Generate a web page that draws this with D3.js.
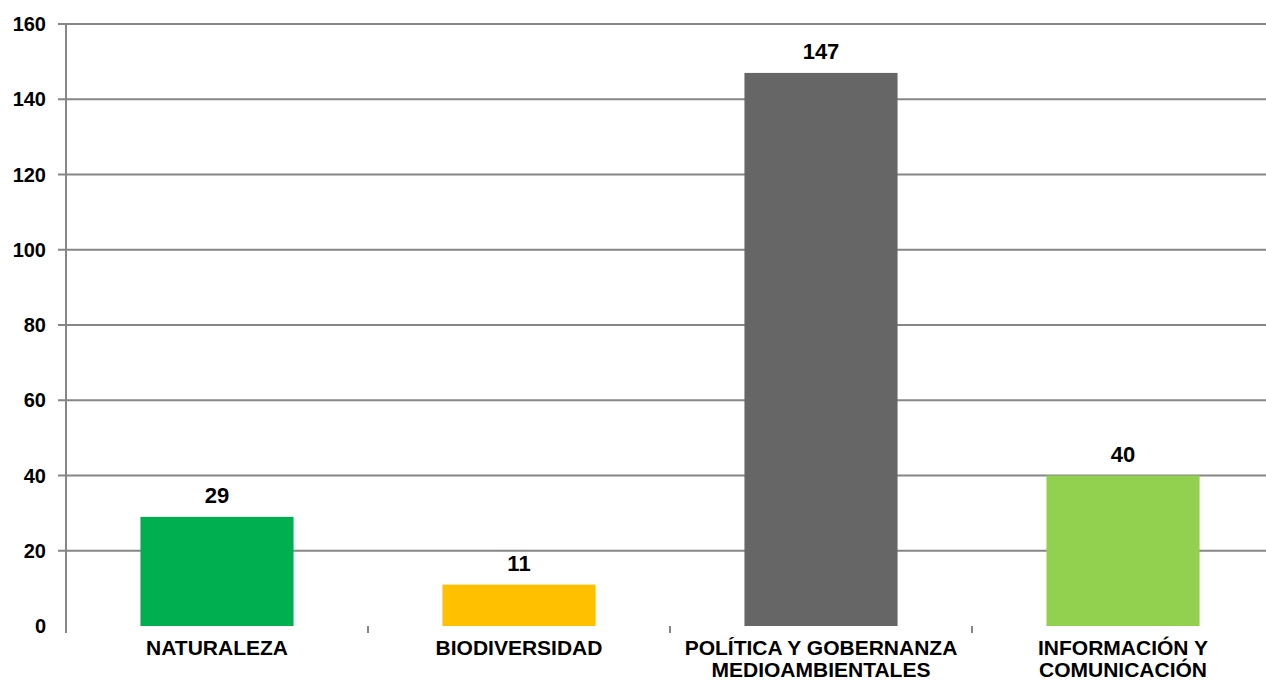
<!DOCTYPE html>
<html><head><meta charset="utf-8">
<script src="https://cdn.jsdelivr.net/npm/d3@7"></script>
<style>html,body{margin:0;padding:0;background:#fff;overflow:hidden}</style>
</head><body>
<svg id="c" width="1266" height="681"></svg>
<script>
const categories = [["NATURALEZA"], ["BIODIVERSIDAD"], ["POLÍTICA Y GOBERNANZA", "MEDIOAMBIENTALES"], ["INFORMACIÓN Y", "COMUNICACIÓN"]];
const values = [29, 11, 147, 40];
const colors = ["#00B050", "#FFC000", "#666666", "#92D050"];
const yTicks = [0, 20, 40, 60, 80, 100, 120, 140, 160];

(function () {
const svg = d3.select("#c");
const pLeft = 66, pRight = 1274, pTop = 24, pBottom = 626;
const font = "'Liberation Sans', Arial, sans-serif";
const grid = "#868686";

const x = d3.scaleBand().domain(d3.range(values.length)).range([pLeft, pRight]).paddingInner(0.493).paddingOuter(0.2465);
const y = d3.scaleLinear().domain([0, 160]).range([pBottom, pTop]);

// gridlines (skip 0)
svg.append("g").selectAll("line").data(yTicks.filter(d => d > 0)).join("line")
  .attr("x1", pLeft - 8).attr("x2", pRight).attr("y1", d => y(d)).attr("y2", d => y(d))
  .attr("stroke", grid).attr("stroke-width", 2);
// y axis line
svg.append("line").attr("x1", pLeft).attr("x2", pLeft).attr("y1", pTop).attr("y2", pBottom + 7).attr("stroke", grid).attr("stroke-width", 2);
// category separator ticks
const step = x.step();
svg.append("g").selectAll("line").data(d3.range(1, values.length + 1)).join("line")
  .attr("x1", i => pLeft + i * step).attr("x2", i => pLeft + i * step)
  .attr("y1", pBottom).attr("y2", pBottom + 7).attr("stroke", grid).attr("stroke-width", 2);

// y labels
svg.append("g").selectAll("text").data(yTicks).join("text")
  .attr("x", 46).attr("y", d => y(d)).attr("dy", "0.36em").attr("text-anchor", "end")
  .attr("font-family", font).attr("font-weight", "bold").attr("font-size", 20).attr("fill", "#000")
  .text(d => d);

// bars
svg.append("g").selectAll("rect").data(values).join("rect")
  .attr("x", (d, i) => x(i)).attr("width", x.bandwidth())
  .attr("y", d => y(d)).attr("height", d => y(0) - y(d))
  .attr("fill", (d, i) => colors[i]);

// value labels
svg.append("g").selectAll("text").data(values).join("text")
  .attr("x", (d, i) => x(i) + x.bandwidth() / 2).attr("y", d => y(d) - 14)
  .attr("text-anchor", "middle").attr("font-family", font).attr("font-weight", "bold")
  .attr("font-size", 22).attr("fill", "#000").text(d => d);

// category labels
const cl = svg.append("g").selectAll("text").data(categories).join("text")
  .attr("text-anchor", "middle").attr("font-family", font).attr("font-weight", "bold")
  .attr("font-size", 21).attr("fill", "#000");
cl.each(function(lines, i) {
  const t = d3.select(this);
  lines.forEach((ln, k) => {
    t.append("tspan").attr("x", x(i) + x.bandwidth() / 2).attr("y", 655 + k * 22).text(ln);
  });
});
})();
</script>
</body></html>
